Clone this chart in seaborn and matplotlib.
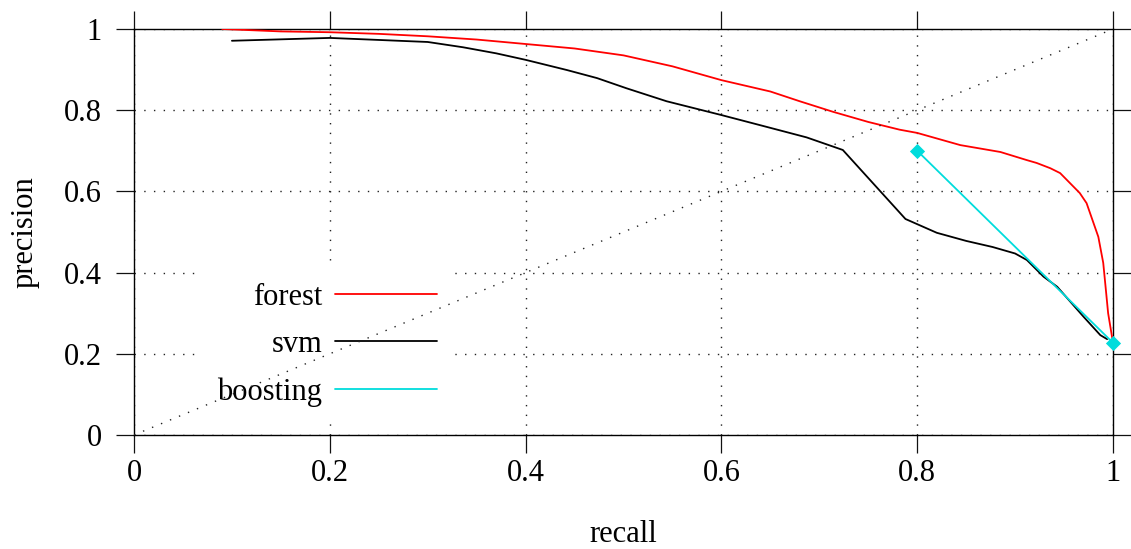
import matplotlib
matplotlib.use("Agg")
import matplotlib.pyplot as plt
import seaborn as sns
import pandas as pd

# ---- data ----
forest_recall = [0.09, 0.15, 0.2, 0.25, 0.3, 0.35, 0.4, 0.45, 0.5, 0.55, 0.6, 0.65, 0.68,
                 0.714, 0.75, 0.782, 0.8, 0.844, 0.885, 0.912, 0.922, 0.936, 0.946, 0.966,
                 0.973, 0.985, 0.99, 0.993, 0.995, 1.0]
forest_precision = [1.0, 0.994, 0.992, 0.988, 0.982, 0.974, 0.963, 0.952, 0.935, 0.908, 0.874,
                    0.846, 0.822, 0.796, 0.771, 0.752, 0.744, 0.714, 0.697, 0.677, 0.670,
                    0.657, 0.645, 0.596, 0.571, 0.488, 0.424, 0.350, 0.300, 0.227]

svm_recall = [0.1, 0.2, 0.3, 0.336, 0.37, 0.4, 0.442, 0.473, 0.503, 0.544, 0.6, 0.646, 0.687,
              0.724, 0.788, 0.82, 0.85, 0.877, 0.9, 0.912, 0.929, 0.943, 0.97, 0.987, 0.994]
svm_precision = [0.971, 0.978, 0.968, 0.955, 0.940, 0.924, 0.899, 0.879, 0.854, 0.822, 0.788,
                 0.759, 0.733, 0.702, 0.532, 0.498, 0.478, 0.463, 0.447, 0.431, 0.390, 0.365,
                 0.291, 0.246, 0.236]

boosting_recall = [0.8, 1.0]
boosting_precision = [0.70, 0.227]

diag_x = [0.0, 1.0]
diag_y = [0.0, 1.0]

xtick_values = [0, 0.2, 0.4, 0.6, 0.8, 1.0]
xtick_labels = ["0", "0.2", "0.4", "0.6", "0.8", "1"]
ytick_values = [0, 0.2, 0.4, 0.6, 0.8, 1.0]
ytick_labels = ["0", "0.2", "0.4", "0.6", "0.8", "1"]

series_names = ["forest", "svm", "boosting"]
series_colors = ["#FF0000", "#000000", "#00DCDC"]

# ---- style ----
sns.set_style("white")
plt.rcParams["font.family"] = ["Liberation Serif", "DejaVu Serif"]
plt.rcParams["font.size"] = 22
plt.rcParams["text.color"] = "black"
plt.rcParams["axes.labelcolor"] = "black"
plt.rcParams["xtick.color"] = "black"
plt.rcParams["ytick.color"] = "black"

fig = plt.figure(figsize=(11.31, 5.49), dpi=100)
ax = fig.add_axes([0.1185, 0.2077, 0.8656, 0.7395])

dot = (0, (1, 6))

df_forest = pd.DataFrame({"recall": forest_recall, "precision": forest_precision})
df_svm = pd.DataFrame({"recall": svm_recall, "precision": svm_precision})
df_boost = pd.DataFrame({"recall": boosting_recall, "precision": boosting_precision})
df_diag = pd.DataFrame({"recall": diag_x, "precision": diag_y})

sns.lineplot(data=df_forest, x="recall", y="precision", ax=ax, color=series_colors[0],
             lw=1.3, sort=False, estimator=None, label=series_names[0], zorder=3)
sns.lineplot(data=df_svm, x="recall", y="precision", ax=ax, color=series_colors[1],
             lw=1.3, sort=False, estimator=None, label=series_names[1], zorder=3)
sns.lineplot(data=df_boost, x="recall", y="precision", ax=ax, color=series_colors[2],
             lw=1.3, sort=False, estimator=None, label=series_names[2], zorder=3)
sns.scatterplot(data=df_boost, x="recall", y="precision", ax=ax, color=series_colors[2],
                marker="D", s=60, edgecolor=series_colors[2], linewidth=0, legend=False,
                zorder=4, clip_on=False)
sns.lineplot(data=df_diag, x="recall", y="precision", ax=ax, color="#222222",
             lw=1.0, linestyle=dot, sort=False, estimator=None, zorder=6, legend=False)

ax.set_xlim(0, 1)
ax.set_ylim(0, 1)
ax.set_xticks(xtick_values)
ax.set_xticklabels(xtick_labels)
ax.set_yticks(ytick_values)
ax.set_yticklabels(ytick_labels)

ax.grid(True, color="#222222", linestyle=dot, linewidth=1.0)
ax.set_axisbelow(True)

for s in ax.spines.values():
    s.set_visible(True)
    s.set_color("black")
    s.set_linewidth(1.0)

ax.tick_params(axis="both", which="major", direction="out", top=True, right=True,
               bottom=True, left=True, length=13, width=0.9, color="#111111",
               labelsize=22, labelcolor="black")
ax.tick_params(axis="x", pad=4)
ax.tick_params(axis="y", pad=10)

ax.set_xlabel("recall", fontsize=22, labelpad=23, color="black")
ax.set_ylabel("precision", fontsize=22, labelpad=18, color="black")

leg = ax.legend(loc="center", bbox_to_anchor=(0.197, 0.222), markerfirst=False,
                frameon=True, fancybox=False, framealpha=1.0, facecolor="white",
                edgecolor="none", handlelength=3.33, handletextpad=0.42,
                labelspacing=0.6, borderpad=0.5, fontsize=22)
for t in leg.get_texts():
    t.set_color("black")
leg.set_zorder(5)

fig.savefig("out.png", dpi=100)
